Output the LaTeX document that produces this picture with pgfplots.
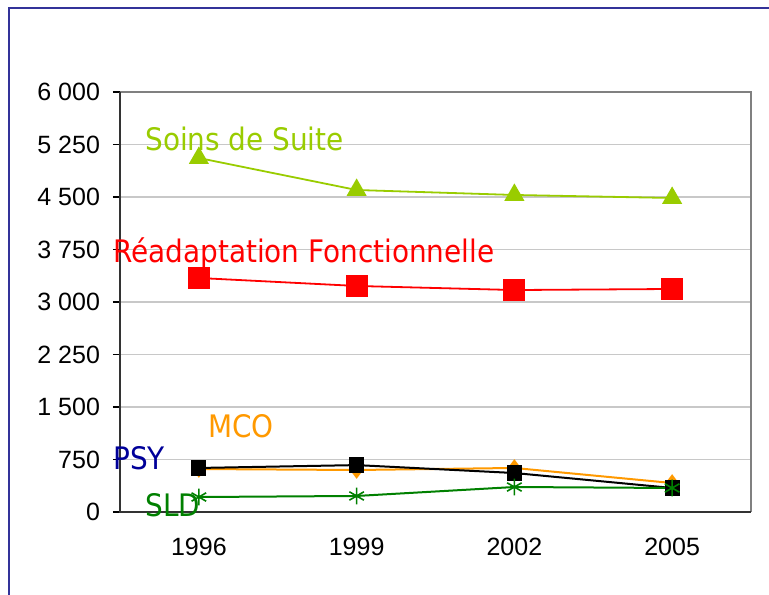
\documentclass[border=0pt]{standalone}
\usepackage{pgfplots}
\pgfplotsset{compat=1.18}
\usepackage{fontspec}
\setmainfont{Liberation Sans}
\newfontfamily\labfont{DejaVu Sans Condensed}

\definecolor{suite}{HTML}{99CC00}
\definecolor{mco}{HTML}{FF9900}
\definecolor{sld}{HTML}{008000}
\definecolor{psy}{HTML}{000099}
\definecolor{frame}{HTML}{333399}
\definecolor{gridc}{HTML}{C8C8C8}

\newcommand{\lab}{\labfont\fontsize{15.5bp}{18bp}\selectfont}

\begin{document}
\begin{tikzpicture}
\useasboundingbox (0,0) rectangle (384.5bp,297.5bp);
\begin{scope}
  \clip (0,0) rectangle (384.5bp,297.5bp);
  \draw[frame, line width=0.8bp] (4.5bp,-10bp) rectangle (400bp,293.5bp);
\end{scope}
\begin{axis}[
    at={(60bp,41.5bp)}, anchor=south west,
    scale only axis,
    width=315.5bp, height=210bp,
    xmin=-0.5, xmax=3.5,
    ymin=0, ymax=6000,
    xtick={0,1,2,3},
    xticklabels={1996,1999,2002,2005},
    ytick={0,750,1500,2250,3000,3750,4500,5250,6000},
    yticklabels={0,750,1 500,2 250,3 000,3 750,4 500,5 250,6 000},
    extra x ticks={-0.5,0.5,1.5,2.5,3.5},
    extra x tick labels={},
    extra x tick style={major tick length=4bp, tick align=outside,
        tick style={black, line width=0.6bp}},
    x tick style={draw=none},
    y tick style={black, line width=0.6bp},
    tick align=outside,
    major tick length=3.5bp,
    xtick pos=bottom, ytick pos=left,
    ymajorgrids,
    major grid style={gridc, line width=0.6bp},
    axis line style={draw=none},
    tick label style={font=\fontsize{12.5bp}{14bp}\selectfont},
    xticklabel style={yshift=-6bp},
    yticklabel style={xshift=-3bp},
    /pgf/number format/assume math mode=true,
    clip=false,
]
\addplot[suite, line width=0.9bp, mark=triangle*, mark size=4.9bp]
  coordinates {(0,5057)(1,4600)(2,4529)(3,4486)};
\addplot[red, line width=0.9bp, mark=square*, mark size=5bp]
  coordinates {(0,3343)(1,3229)(2,3171)(3,3186)};
\addplot[mco, line width=1bp, mark=diamond*, mark size=3.6bp]
  coordinates {(0,614)(1,600)(2,629)(3,414)};
\addplot[black, line width=1bp, mark=square*, mark size=3.3bp]
  coordinates {(0,629)(1,670)(2,557)(3,343)};
\addplot[sld, line width=1bp, mark=asterisk, mark size=4.2bp,
         mark options={line width=0.8bp}]
  coordinates {(0,214)(1,229)(2,357)(3,343)};

\draw[gray, line width=1bp] (rel axis cs:0,1) -- (rel axis cs:1,1) -- (rel axis cs:1,0);
\draw[black!80, line width=0.9bp] (rel axis cs:0,1) -- (rel axis cs:0,0) -- (rel axis cs:1,0);

\node[anchor=base west, inner sep=0, text=suite, font=\lab] at (axis cs:-0.342,5171) {Soins de Suite};
\node[anchor=base west, inner sep=0, text=red, font=\lab] at (axis cs:-0.544,3571) {Réadaptation Fonctionnelle};
\node[anchor=base west, inner sep=0, text=mco, font=\lab] at (axis cs:0.058,1071) {MCO};
\node[anchor=base west, inner sep=0, text=psy, font=\lab] at (axis cs:-0.544,600) {PSY};
\node[anchor=base west, inner sep=0, text=sld, font=\lab] at (axis cs:-0.342,-71) {SLD};
\end{axis}
\end{tikzpicture}
\end{document}
